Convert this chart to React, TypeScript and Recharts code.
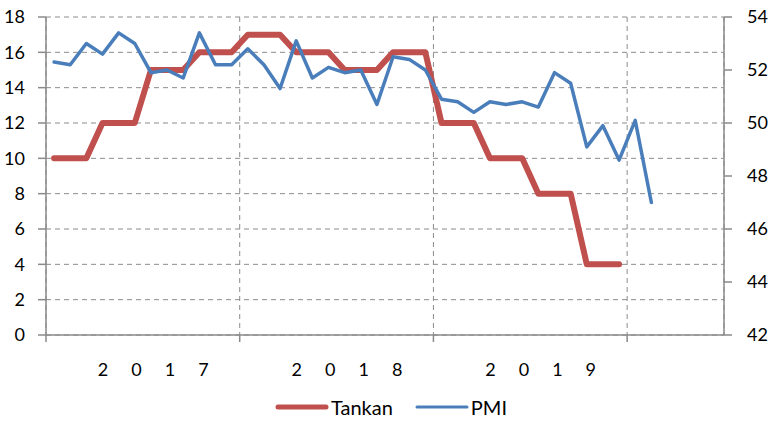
import { LineChart, Line, XAxis, YAxis, CartesianGrid, Legend } from 'recharts'

// months from Jan 2017, x positions are month index + 0.5 (centre of each month)
const months = [
  'Jan17', 'Feb17', 'Mar17', 'Apr17', 'May17', 'Jun17', 'Jul17', 'Aug17', 'Sep17', 'Oct17', 'Nov17', 'Dec17',
  'Jan18', 'Feb18', 'Mar18', 'Apr18', 'May18', 'Jun18', 'Jul18', 'Aug18', 'Sep18', 'Oct18', 'Nov18', 'Dec18',
  'Jan19', 'Feb19', 'Mar19', 'Apr19', 'May19', 'Jun19', 'Jul19', 'Aug19', 'Sep19', 'Oct19', 'Nov19', 'Dec19',
  'Jan20', 'Feb20',
]

const tankan = [
  10, 10, 10, 12, 12, 12, 15, 15, 15, 16, 16, 16,
  17, 17, 17, 16, 16, 16, 15, 15, 15, 16, 16, 16,
  12, 12, 12, 10, 10, 10, 8, 8, 8, 4, 4, 4,
]

const pmi = [
  52.3, 52.2, 53.0, 52.6, 53.4, 53.0, 51.9, 52.0, 51.7, 53.4, 52.2, 52.2,
  52.8, 52.2, 51.3, 53.1, 51.7, 52.1, 51.9, 52.0, 50.7, 52.5, 52.4, 52.0,
  50.9, 50.8, 50.4, 50.8, 50.7, 50.8, 50.6, 51.9, 51.5, 49.1, 49.9, 48.6,
  50.1, 47.0,
]

const years = ['2017', '2018', '2019']
const yearTicks = [6, 18, 30]
const yearStartTicks = [0, 12, 24, 36]
const leftTicks = [0, 2, 4, 6, 8, 10, 12, 14, 16, 18]
const rightTicks = [42, 44, 46, 48, 50, 52, 54]

const data = months.map((m, i) => ({
  month: m,
  x: i + 0.5,
  tankan: i < tankan.length ? tankan[i] : null,
  pmi: pmi[i],
}))

const FONT = 'Lato, "Open Sans", sans-serif'
const RED = '#C0504D'
const BLUE = '#4A7EBB'
const GRID = '#8c8c8c'
const AXIS = '#8a8a8a'

function EmptyTick() {
  return <g />
}

function YearTick({ x, y, payload }: any) {
  const idx = yearTicks.indexOf(payload.value)
  const label = years[idx] ?? ''
  return (
    <text
      x={x - 45}
      y={y}
      dy={26}
      textAnchor="start"
      fill="#000"
      fontFamily={FONT}
      fontSize={18}
      style={{ letterSpacing: 23 }}
    >
      {label}
    </text>
  )
}

function ChartLegend() {
  return (
    <div
      style={{
        display: 'flex',
        justifyContent: 'center',
        alignItems: 'center',
        height: 34,
        paddingLeft: 10,
        fontFamily: FONT,
        fontSize: 20,
        color: '#000',
      }}
    >
      <svg width={54} height={10}>
        <line x1={3} y1={5} x2={51} y2={5} stroke={RED} strokeWidth={5} strokeLinecap="round" />
      </svg>
      <span style={{ marginLeft: 2, marginRight: 22 }}>Tankan</span>
      <svg width={54} height={10}>
        <line x1={2} y1={5} x2={52} y2={5} stroke={BLUE} strokeWidth={3} strokeLinecap="round" />
      </svg>
      <span style={{ marginLeft: 2 }}>PMI</span>
    </div>
  )
}

export default function App() {
  return (
    <div style={{ position: 'absolute', left: 0, top: 0, width: 772, height: 424, background: '#fff' }}>
      <LineChart width={772} height={424} data={data} margin={{ top: 17, right: 0, bottom: 0, left: 0 }}>
        <CartesianGrid stroke={GRID} strokeDasharray="5 4" yAxisId="left" xAxisId="main" />
        <XAxis
          xAxisId="main"
          dataKey="x"
          type="number"
          domain={[0, 42]}
          ticks={yearStartTicks}
          tick={<EmptyTick />}
          tickSize={7}
          height={7}
          axisLine={{ stroke: AXIS, strokeWidth: 1.5 }}
          tickLine={{ stroke: AXIS, strokeWidth: 1.5 }}
        />
        <XAxis
          xAxisId="years"
          dataKey="x"
          type="number"
          domain={[0, 42]}
          ticks={yearTicks}
          tick={<YearTick />}
          axisLine={false}
          tickLine={false}
          height={48}
        />
        <YAxis
          yAxisId="left"
          orientation="left"
          domain={[0, 18]}
          ticks={leftTicks}
          width={46}
          tickSize={8}
          tickMargin={13}
          axisLine={{ stroke: AXIS, strokeWidth: 1.5 }}
          tickLine={{ stroke: AXIS, strokeWidth: 1.5 }}
          tick={{ fill: '#000', fontFamily: FONT, fontSize: 18 }}
          interval={0}
        />
        <YAxis
          yAxisId="right"
          orientation="right"
          domain={[42, 54]}
          ticks={rightTicks}
          width={48}
          tickSize={8}
          tickMargin={15}
          axisLine={{ stroke: AXIS, strokeWidth: 1.5 }}
          tickLine={{ stroke: AXIS, strokeWidth: 1.5 }}
          tick={{ fill: '#000', fontFamily: FONT, fontSize: 18, textAnchor: 'start' }}
          interval={0}
        />
        <Legend verticalAlign="bottom" content={<ChartLegend />} />
        <Line
          xAxisId="main"
          yAxisId="left"
          type="linear"
          dataKey="tankan"
          stroke={RED}
          strokeWidth={6}
          strokeLinejoin="round"
          strokeLinecap="round"
          dot={false}
          activeDot={false}
          isAnimationActive={false}
        />
        <Line
          xAxisId="main"
          yAxisId="right"
          type="linear"
          dataKey="pmi"
          stroke={BLUE}
          strokeWidth={3.5}
          strokeLinejoin="round"
          strokeLinecap="round"
          dot={false}
          activeDot={false}
          isAnimationActive={false}
        />
      </LineChart>
    </div>
  )
}
